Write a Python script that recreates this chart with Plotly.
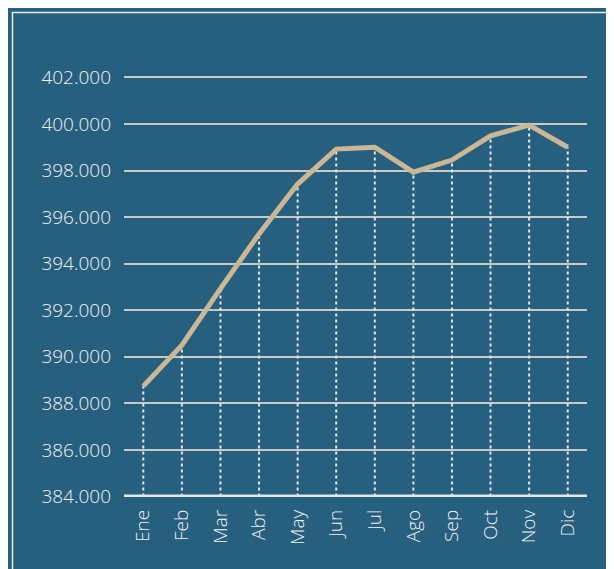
import plotly.graph_objects as go

months = ["Ene", "Feb", "Mar", "Abr", "May", "Jun", "Jul", "Ago", "Sep", "Oct", "Nov", "Dic"]
values = [388740, 390500, 392930, 395280, 397420, 398920, 399000, 397930, 398450, 399490, 399950, 399000]
y_ticks = [384000, 386000, 388000, 390000, 392000, 394000, 396000, 398000, 400000, 402000]
y_labels = [f"{v:,}".replace(",", ".") for v in y_ticks]

BG = "#275f7f"
FONT = dict(family="Open Sans", size=19, color="#f2f2f2", weight=300)

drop_x, drop_y = [], []
for m, v in zip(months, values):
    drop_x += [m, m, None]
    drop_y += [y_ticks[0], v, None]

fig = go.Figure()
fig.add_trace(go.Scatter(x=drop_x, y=drop_y, mode="lines",
                         line=dict(color="#e6e6e6", width=2, dash="dot"),
                         hoverinfo="skip", showlegend=False, cliponaxis=False))
fig.add_trace(go.Scatter(x=months, y=values, mode="lines",
                         line=dict(color="#c9b795", width=5),
                         showlegend=False))

OFF = 8  # page body margin
W, H = 614 - OFF, 569 - OFF
ml, mr, mt, mb = 124 - OFF, 27, 76 - OFF, 72
pw, ph = W - ml - mr, H - mt - mb

def px(x):
    return (x - OFF - ml) / pw

def py(y):
    return (H - mb - (y - OFF)) / ph

fig.add_shape(type="rect", xref="paper", yref="paper",
              x0=px(12.5), x1=px(610), y0=py(620), y1=py(12.5),
              line=dict(color="#e8eef2", width=1.5), layer="below")

fig.update_layout(
    width=W, height=H,
    margin=dict(l=ml, r=mr, t=mt, b=mb, autoexpand=False),
    paper_bgcolor=BG, plot_bgcolor=BG,
    font=FONT,
    xaxis=dict(type="category", categoryorder="array", categoryarray=months,
               range=[-0.5, 11.5], showgrid=False, zeroline=False, automargin=False,
               tickangle=-90, ticks="", ticklabelstandoff=8,
               showline=False, tickfont=FONT),
    yaxis=dict(range=[y_ticks[0] - 20, y_ticks[-1] + 60], tickvals=y_ticks, ticktext=y_labels,
               showgrid=True, gridcolor="#c9c9c9", gridwidth=2, zeroline=False, automargin=False,
               ticks="", ticklabelstandoff=12, tickfont=FONT, showline=False),
)
fig.add_hline(y=y_ticks[0], line=dict(color="#e6e6e6", width=4), layer="above")

fig.write_html("out.html")
